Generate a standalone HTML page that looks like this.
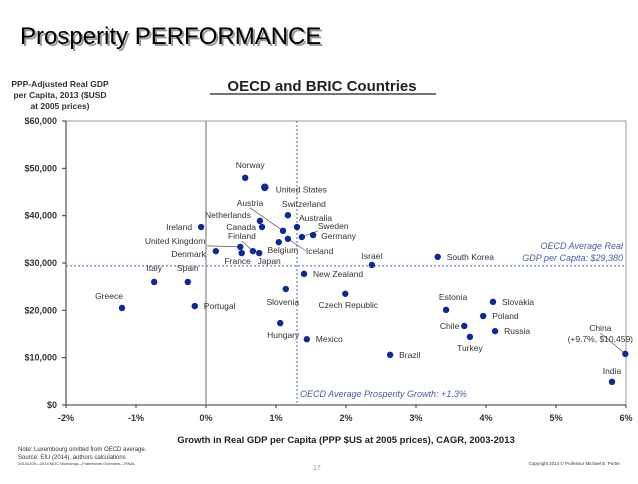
<!DOCTYPE html>
<html><head><meta charset="utf-8"><style>
body{margin:0;background:#fff;width:638px;height:479px;overflow:hidden;font-family:"Liberation Sans",Arial,sans-serif}
</style></head><body>
<svg id="c" width="638" height="479" viewBox="0 0 638 479" xmlns="http://www.w3.org/2000/svg" font-family="Liberation Sans, Arial, sans-serif">
<text x="22" y="46" font-size="24" fill="#999">Prosperity PERFORMANCE</text>
<text x="20" y="44" font-size="24" fill="#000">Prosperity PERFORMANCE</text>
<text x="322" y="91" font-size="15" font-weight="bold" text-anchor="middle" fill="#222">OECD and BRIC Countries</text>
<line x1="210" y1="94" x2="436" y2="94" stroke="#222" stroke-width="1.2"/>
<g font-size="8.5" font-weight="bold" fill="#333" text-anchor="middle">
<text x="60" y="87">PPP-Adjusted Real GDP</text><text x="60" y="98">per Capita, 2013 ($USD</text><text x="60" y="109">at 2005 prices)</text></g>
<g id="plot"></g>
<text x="346" y="443" font-size="9.5" font-weight="bold" text-anchor="middle" fill="#222">Growth in Real GDP per Capita (PPP $US at 2005 prices), CAGR, 2003-2013</text>
<g font-size="6" fill="#333">
<text x="18" y="451">Note: Luxembourg omitted from OECD average.</text>
<text x="18" y="459">Source: EIU (2014), authors calculations</text>
<text x="18" y="465" font-size="4">20131209—2014 MOC Workshop—Framework Overview—FINAL</text></g>
<text x="313" y="470" font-size="7" fill="#999">17</text>
<text x="620" y="465" font-size="4.5" fill="#333" text-anchor="end">Copyright 2014 © Professor Michael E. Porter</text>
</svg>
<script>
const countries=["Norway","United States","Switzerland","Australia","Sweden","Germany","Austria","Belgium","Iceland","Netherlands","Canada","Ireland","United Kingdom","Denmark","France","Finland","Japan","Israel","New Zealand","Italy","Spain","Slovenia","Czech Republic","Greece","Portugal","Hungary","Mexico","South Korea","Estonia","Slovakia","Poland","Chile","Russia","Turkey","Brazil","China","India"];
const growth=[0.56,0.84,1.17,1.3,1.37,1.53,1.1,1.04,1.17,0.77,0.8,-0.07,0.49,0.14,0.51,0.67,0.76,2.37,1.4,-0.74,-0.26,1.14,1.99,-1.2,-0.16,1.06,1.44,3.31,3.43,4.1,3.96,3.69,4.13,3.77,2.63,5.99,5.8];
const gdp=[48.0,46.0,40.1,37.6,35.5,35.9,36.8,34.4,35.1,38.9,37.6,37.6,33.4,32.5,32.1,32.5,32.1,29.6,27.7,26.0,26.0,24.5,23.5,20.5,20.9,17.3,13.9,31.3,20.1,21.8,18.8,16.7,15.6,14.4,10.6,10.8,4.9];
const xTicks=[-2,-1,0,1,2,3,4,5,6];
const yTicks=[0,10,20,30,40,50,60];
const oecdGrowth=1.3, oecdGdp=29.38;
// label placement (dx,dy relative to point, anchor, optional leader)
const lab={"Norway":[5,-10,"middle"],"United States":[11,5,"start"],"Switzerland":[16,-8,"middle"],"Australia":[2,-6,"start"],"Sweden":[16,-8,"start",1],"Germany":[8,4,"start"],"Austria":[-33,-25,"middle",1],"Belgium":[4,11,"middle"],"Iceland":[18,15,"start",1],"Netherlands":[-9,-3,"end"],"Canada":[-6,3,"end"],"Ireland":[-9,3,"end"],"United Kingdom":[-35,-3,"end",1],"Denmark":[-10,6,"end"],"France":[-4,11,"middle"],"Finland":[-11,-12,"middle",1],"Japan":[10,11,"middle"],"Israel":[0,-6,"middle"],"New Zealand":[9,3,"start"],"Italy":[0,-11,"middle"],"Spain":[0,-11,"middle"],"Slovenia":[-3,16,"middle"],"Czech Republic":[3,14,"middle"],"Greece":[-13,-9,"middle"],"Portugal":[9,3,"start"],"Hungary":[3,15,"middle"],"Mexico":[9,3,"start"],"South Korea":[9,3,"start"],"Estonia":[7,-10,"middle"],"Slovakia":[9,3,"start"],"Poland":[9,3,"start"],"Chile":[-5,3,"end"],"Russia":[9,3,"start"],"Turkey":[0,14,"middle"],"Brazil":[9,3,"start"],"China":[-25,-23,"middle",1],"India":[0,-8,"middle"]};
const X0=66,X1=626,Y0=405,Y1=121;
const xs=v=>X0+(v+2)/8*(X1-X0);
const ys=v=>Y0-v/60*(Y0-Y1);
const NS="http://www.w3.org/2000/svg";
const g=document.getElementById('plot');
function mk(t,a,p){const e=document.createElementNS(NS,t);for(const k in a)e.setAttribute(k,a[k]);(p||g).appendChild(e);return e;}
let e=mk('rect',{x:X0,y:Y1,width:X1-X0,height:Y0-Y1,fill:'none',stroke:'#999','stroke-width':1});


e=mk('line',{x1:X0,y1:Y0,x2:X1,y2:Y0,stroke:'#333'});


e=mk('line',{x1:X0,y1:Y1,x2:X0,y2:Y0,stroke:'#333'});


e=mk('line',{x1:xs(0),y1:Y1,x2:xs(0),y2:Y0,stroke:'#888','stroke-width':1.2});


xTicks.forEach(t=>{
 e=mk('text',{x:xs(t),y:Y0+16,'font-size':9,'font-weight':'bold','text-anchor':'middle',fill:'#333'});e.textContent=t+'%';
 
 
 mk('line',{x1:xs(t),y1:Y0,x2:xs(t),y2:Y0+3,stroke:'#333'});
});
yTicks.forEach(t=>{
 e=mk('text',{x:X0-9,y:ys(t)+3,'font-size':9,'font-weight':'bold','text-anchor':'end',fill:'#333'});e.textContent='$'+(t?t+',000':'0');
 
 
 mk('line',{x1:X0-4,y1:ys(t),x2:X0,y2:ys(t),stroke:'#333'});
});
e=mk('line',{x1:xs(oecdGrowth),y1:Y1,x2:xs(oecdGrowth),y2:Y0,stroke:'#4a6bb0','stroke-dasharray':'2,2'});


e=mk('line',{x1:X0,y1:ys(oecdGdp),x2:X1,y2:ys(oecdGdp),stroke:'#4a6bb0','stroke-dasharray':'2,2'});


e=mk('text',{x:xs(oecdGrowth)+3,y:Y0-8,'font-size':9,'font-style':'italic',fill:'#4a5aa8'});e.textContent='OECD Average Prosperity Growth: +1.3%';


e=mk('text',{x:X1-3,y:ys(oecdGdp)-17,'font-size':9,'font-style':'italic',fill:'#4a5aa8','text-anchor':'end'});e.textContent='OECD Average Real';


e=mk('text',{x:X1-3,y:ys(oecdGdp)-5,'font-size':9,'font-style':'italic',fill:'#4a5aa8','text-anchor':'end'});e.textContent='GDP per Capita: $29,380';


countries.forEach((c,i)=>{
 const px=xs(growth[i]),py=ys(gdp[i]),L=lab[c];
 const tx=px+L[0],ty=py+L[1];
 if(L[3]){const ln=mk('line',{x1:px,y1:py,x2:tx+(L[2]==='end'?2:0),y2:ty-(L[1]<0?-2:3),stroke:'#555','stroke-width':0.7});
  
  }
 const d=mk('circle',{cx:px,cy:py,r:c==="United States"?3.8:3.2,fill:'#0a2a9a'});
 
 
 const t=mk('text',{x:tx,y:ty,'font-size':8.5,'text-anchor':L[2],fill:'#333'});
 t.textContent=c;
 
 
 if(c==="China"){const t2=mk('text',{x:tx,y:ty+11,'font-size':8.5,'text-anchor':'middle',fill:'#333'});t2.textContent='(+9.7%, $10,459)';
  
  }
});
</script>
</body></html>
